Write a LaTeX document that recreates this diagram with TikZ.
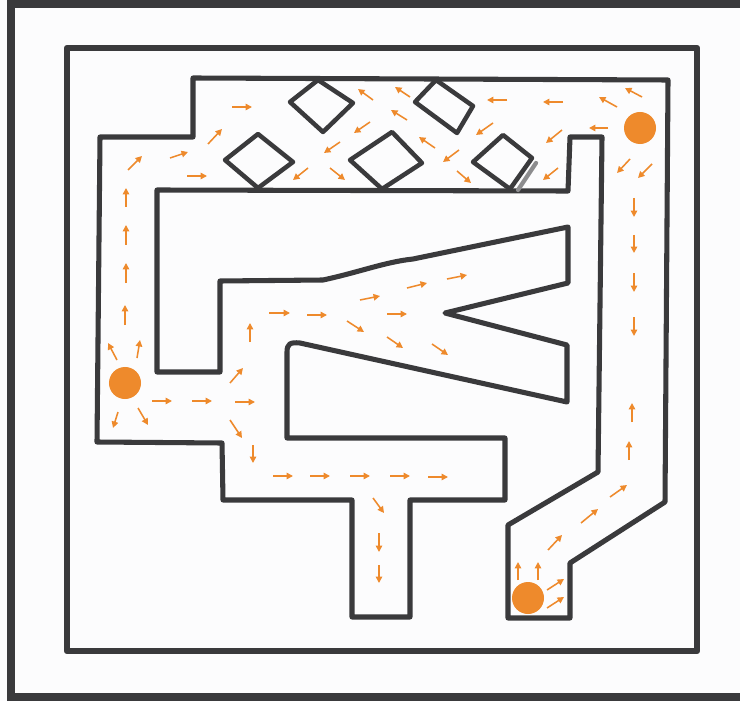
\documentclass[tikz,border=0pt]{standalone}
\usepackage{tikz}
\usepackage{xcolor}
\usetikzlibrary{arrows.meta}
\definecolor{Maze_Wall}{HTML}{3A3A3C}
\definecolor{Maze_Grey}{HTML}{8C8C8E}
\definecolor{Maze_Paper}{HTML}{FCFCFD}
\definecolor{Flow_Orange}{HTML}{EE8A2C}

\begin{document}
\begin{tikzpicture}[x=0.025cm, y=-0.025cm,
    wall/.style={draw=Maze_Wall, line width=3.6pt, line join=round},
    rock/.style={draw=Maze_Wall, line width=3.2pt, line join=round},
    flow/.style={Flow_Orange, line width=1.1pt, -{Triangle[length=4.6pt,width=4.6pt]}},
    source/.style={circle, fill=Flow_Orange, minimum size=0.8cm, inner sep=0pt}]
    \useasboundingbox (0,0) rectangle (740,701);
    \fill[Maze_Paper] (0,0) rectangle (740,701);

    % frame
    \draw[Maze_Wall, line width=5.7pt] (760,4) -- (11,4) -- (11,697) -- (760,697);
    \draw[wall, line width=4.5pt] (67,48) rectangle (697,651);

    % corridor
    \draw[wall] (193,78) -- (668,80) -- (665,502) -- (570,563) -- (570,618)
        -- (508,618) -- (508,525) -- (598,472) -- (602,137) -- (570,137) -- (568,191)
        -- (157,190) -- (157,372) -- (220,372) -- (220,281) -- (323,280)
        .. controls (360,272) and (385,262) .. (413,259) -- (568,227) -- (568,283)
        -- (445,313) -- (567,345) -- (567,402) -- (300,343)
        .. controls (290,342) and (287,344) .. (287,352) -- (287,438) -- (505,438)
        -- (505,500) -- (410,500) -- (410,617) -- (352,617) -- (352,500) -- (223,500)
        -- (222,443) -- (97,442) -- (100,137) -- (193,137) -- cycle;

    % rocks
    \draw[rock] (290,102) -- (318,80) -- (353,103) -- (323,132) -- cycle;
    \draw[rock] (415,102) -- (436,80) -- (473,106) -- (457,133) -- cycle;
    \draw[rock] (225,160) -- (258,134) -- (293,162) -- (258,188) -- cycle;
    \draw[rock] (350,160) -- (392,132) -- (422,163) -- (382,189) -- cycle;
    \draw[rock] (473,162) -- (503,135) -- (532,158) -- (510,189) -- cycle;
    \draw[Maze_Grey, line width=3pt, line cap=round] (536,163) -- (518,190);

    % sources
    \node[source] (srcleft) at (125,383) {};
    \node[source] (srctop) at (640,128) {};
    \node[source] (srcbottom) at (528,598) {};

    % left column
    \draw[flow] (125,325) -- (125,305);
    \draw[flow] (126,283) -- (126,263);
    \draw[flow] (126,245) -- (126,225);
    \draw[flow] (126,207) -- (126,188);
    \draw[flow] (117,360) -- (108,343);
    \draw[flow] (137,358) -- (140,340);
    \draw[flow] (118,412) -- (113,428);
    \draw[flow] (138,408) -- (148,425);
    \draw[flow] (152,401) -- (172,401);
    \draw[flow] (192,401) -- (212,401);
    \draw[flow] (235,402) -- (255,402);

    % top left
    \draw[flow] (128,170) -- (142,156);
    \draw[flow] (170,158) -- (188,152);
    \draw[flow] (187,176) -- (207,176);
    \draw[flow] (208,144) -- (222,129);
    \draw[flow] (232,107) -- (252,107);

    % between rocks
    \draw[flow] (373,100) -- (358,89);
    \draw[flow] (410,97) -- (395,87);
    \draw[flow] (407,120) -- (391,110);
    \draw[flow] (370,122) -- (354,133);
    \draw[flow] (340,142) -- (324,153);
    \draw[flow] (308,168) -- (293,180);
    \draw[flow] (330,168) -- (345,180);
    \draw[flow] (435,148) -- (419,137);
    \draw[flow] (459,150) -- (443,162);
    \draw[flow] (493,123) -- (476,135);
    \draw[flow] (457,171) -- (471,183);
    \draw[flow] (507,100) -- (487,100);
    \draw[flow] (563,102) -- (543,102);
    \draw[flow] (562,130) -- (546,143);
    \draw[flow] (558,168) -- (543,180);

    % top right
    \draw[flow] (617,107) -- (599,97);
    \draw[flow] (642,97) -- (625,88);
    \draw[flow] (608,128) -- (589,128);
    \draw[flow] (630,159) -- (617,173);
    \draw[flow] (652,164) -- (638,178);
    \draw[flow] (634,198) -- (634,217);
    \draw[flow] (634,235) -- (634,253);
    \draw[flow] (634,273) -- (634,292);
    \draw[flow] (634,317) -- (634,336);

    % fork
    \draw[flow] (230,383) -- (243,368);
    \draw[flow] (250,342) -- (250,323);
    \draw[flow] (269,313) -- (290,313);
    \draw[flow] (307,315) -- (327,315);
    \draw[flow] (347,321) -- (364,332);
    \draw[flow] (360,300) -- (380,296);
    \draw[flow] (387,314) -- (407,314);
    \draw[flow] (387,337) -- (403,348);
    \draw[flow] (407,288) -- (427,283);
    \draw[flow] (447,279) -- (467,275);
    \draw[flow] (432,344) -- (448,355);

    % lower branch
    \draw[flow] (230,420) -- (242,438);
    \draw[flow] (253,445) -- (253,463);
    \draw[flow] (273,476) -- (293,476);
    \draw[flow] (310,476) -- (330,476);
    \draw[flow] (350,476) -- (370,476);
    \draw[flow] (390,476) -- (410,476);
    \draw[flow] (428,477) -- (448,477);
    \draw[flow] (373,498) -- (384,513);
    \draw[flow] (379,533) -- (379,552);
    \draw[flow] (379,565) -- (379,583);

    % bottom right
    \draw[flow] (518,580) -- (518,562);
    \draw[flow] (538,580) -- (538,562);
    \draw[flow] (547,590) -- (564,579);
    \draw[flow] (547,608) -- (564,597);
    \draw[flow] (548,550) -- (562,535);
    \draw[flow] (581,523) -- (598,509);
    \draw[flow] (610,497) -- (627,485);
    \draw[flow] (629,460) -- (629,441);
    \draw[flow] (632,422) -- (632,403);
\end{tikzpicture}
\end{document}
